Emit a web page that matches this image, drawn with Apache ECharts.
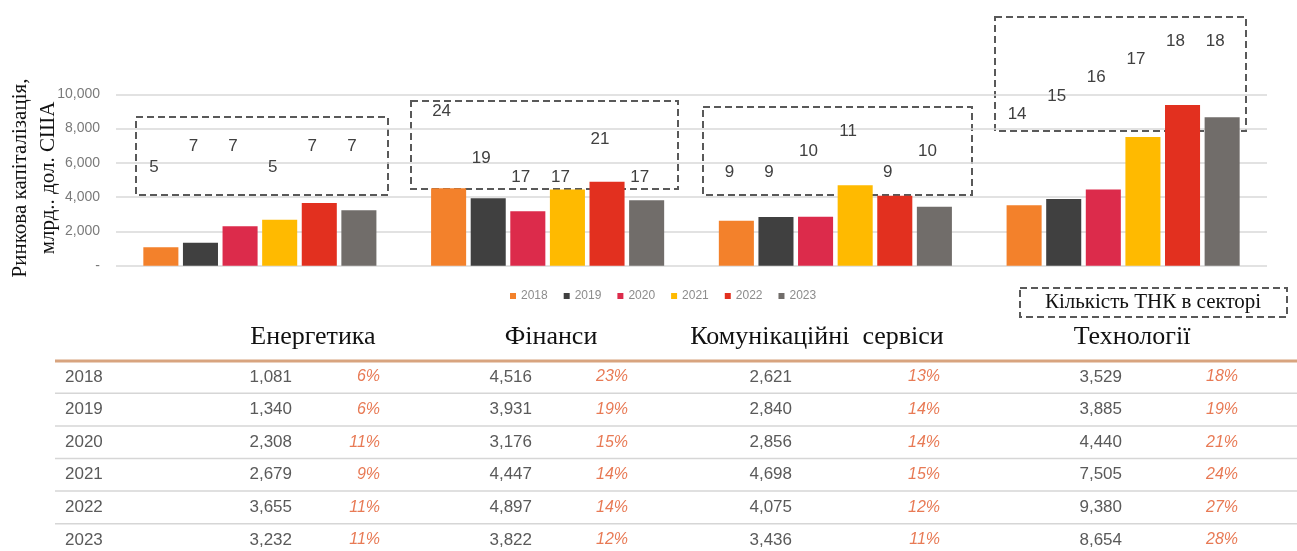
<!DOCTYPE html>
<html>
<head>
<meta charset="utf-8">
<script src="https://cdn.jsdelivr.net/npm/echarts@6/dist/echarts.min.js"></script>
<style>
  html, body { margin: 0; padding: 0; background: #fff; }
  #chart { width: 1297px; height: 551px; }
</style>
</head>
<body>
<div id="chart"></div>
<script>
// дані
const years = ['2018', '2019', '2020', '2021', '2022', '2023'];
const sectors = ['Енергетика', 'Фінанси', 'Комунікаційні  сервіси', 'Технології'];
const yTicks = [0, 2000, 4000, 6000, 8000, 10000];

// ринкова капіталізація, млрд дол. США
const energyCap = [1081, 1340, 2308, 2679, 3655, 3232];
const financeCap = [4516, 3931, 3176, 4447, 4897, 3822];
const commCap = [2621, 2840, 2856, 4698, 4075, 3436];
const techCap = [3529, 3885, 4440, 7505, 9380, 8654];

// частка, %
const energyShare = [6, 6, 11, 9, 11, 11];
const financeShare = [23, 19, 15, 14, 14, 12];
const commShare = [13, 14, 14, 15, 12, 11];
const techShare = [18, 19, 21, 24, 27, 28];

// кількість ТНК в секторі
const energyTnc = [5, 7, 7, 5, 7, 7];
const financeTnc = [24, 19, 17, 17, 21, 17];
const commTnc = [9, 9, 10, 11, 9, 10];
const techTnc = [14, 15, 16, 17, 18, 18];

const capBySector = [energyCap, financeCap, commCap, techCap];
const shareBySector = [energyShare, financeShare, commShare, techShare];
const tncBySector = [energyTnc, financeTnc, commTnc, techTnc];

// стиль
const colors = ['#F3812B', '#404040', '#DC2B4B', '#FFBA00', '#E2301F', '#716D6A'];
const catGap = 0.19;
const barGap = 0.13;
const labelShift = -7;
// окремі приховані шкали для підписів кількості ТНК
const tncScales = [
  { min: -4.4, max: 11.9 },
  { min: 7.6, max: 25.8 },
  { min: 4.45, max: 12.8 },
  { min: 5.8, max: 15.1 }
];

const chart = echarts.init(document.getElementById('chart'));

function renderCount(params, api) {
  const p = api.coord([api.value(0), api.value(2)]);
  const band = api.size([1, 0])[0];
  const barW = band * (1 - catGap) / (6 + 5 * barGap);
  const x = p[0] + (api.value(1) - 2.5) * barW * (1 + barGap) + labelShift;
  return {
    type: 'text',
    x: x,
    y: p[1],
    style: {
      text: String(api.value(2)),
      fill: '#404040',
      font: '17px "Liberation Sans", Arial',
      align: 'center',
      verticalAlign: 'middle'
    }
  };
}

const barSeries = years.map((yr, i) => ({
  name: yr,
  type: 'bar',
  yAxisIndex: 0,
  barGap: (barGap * 100) + '%',
  barCategoryGap: (catGap * 100) + '%',
  itemStyle: { color: colors[i] },
  data: capBySector.map(arr => arr[i])
}));

const countSeries = tncBySector.map((tnc, s) => ({
  name: 'ТНК ' + sectors[s],
  type: 'custom',
  yAxisIndex: s + 1,
  silent: true,
  z: 5,
  encode: { x: 0, y: 2 },
  renderItem: renderCount,
  data: tnc.map((c, y) => [s, y, c])
}));

// таблиця під графіком
const tbl = {
  headY: 337,
  lineY: 361,
  rowY0: 377,
  rowH: 32.6,
  left: 55,
  yearX: 65,
  headX: [313, 551, 817, 1132],
  valX: [292, 532, 792, 1122],
  pctX: [380, 628, 940, 1238]
};

const graphics = [];

// назва осі
graphics.push({
  type: 'text',
  x: 34,
  y: 178,
  rotation: Math.PI / 2,
  style: {
    text: 'Ринкова капіталізація,\nмлрд.. дол. США',
    font: '21px "Liberation Serif", "Times New Roman", serif',
    fill: '#111',
    align: 'center',
    verticalAlign: 'middle',
    lineHeight: 28
  }
});

// пунктирні рамки
const dashStyle = { fill: 'none', stroke: '#595959', lineWidth: 2, lineDash: [7, 4] };
[[136, 117, 252, 78], [411, 101, 267, 88], [703, 107, 269, 88], [995, 17, 251, 114], [1020, 288, 267, 29]]
  .forEach(r => graphics.push({ type: 'rect', shape: { x: r[0], y: r[1], width: r[2], height: r[3] }, style: dashStyle }));

graphics.push({
  type: 'text', x: 1153, y: 302,
  style: { text: 'Кількість ТНК в секторі', font: '21px "Liberation Serif", serif', fill: '#111', align: 'center', verticalAlign: 'middle' }
});

// заголовки секторів
sectors.forEach((name, s) => graphics.push({
  type: 'text', x: tbl.headX[s], y: tbl.headY,
  style: { text: name, font: '26px "Liberation Serif", serif', fill: '#111', align: 'center', verticalAlign: 'middle' }
}));

graphics.push({
  type: 'line', shape: { x1: tbl.left, y1: tbl.lineY, x2: 1297, y2: tbl.lineY },
  style: { stroke: '#D8A47F', lineWidth: 3 }
});

years.forEach((yr, i) => {
  const y = tbl.rowY0 + i * tbl.rowH;
  if (i > 0) {
    graphics.push({
      type: 'line', shape: { x1: tbl.left, y1: y - tbl.rowH / 2, x2: 1297, y2: y - tbl.rowH / 2 },
      style: { stroke: '#D6D6D6', lineWidth: 1.5 }
    });
  }
  graphics.push({
    type: 'text', x: tbl.yearX, y: y,
    style: { text: yr, font: '17px "Liberation Sans", Arial', fill: '#5a5a5a', align: 'left', verticalAlign: 'middle' }
  });
  sectors.forEach((name, s) => {
    graphics.push({
      type: 'text', x: tbl.valX[s], y: y,
      style: { text: capBySector[s][i].toLocaleString('en-US'), font: '17px "Liberation Sans", Arial', fill: '#5a5a5a', align: 'right', verticalAlign: 'middle' }
    });
    graphics.push({
      type: 'text', x: tbl.pctX[s], y: y,
      style: { text: shareBySector[s][i] + '%', font: 'italic 16px "Liberation Sans", Arial', fill: '#E87A55', align: 'right', verticalAlign: 'middle' }
    });
  });
});

const option = {
  animation: false,
  backgroundColor: '#fff',
  grid: { left: 116, right: 30, top: 94.3, bottom: 285.3, containLabel: false },
  legend: {
    data: years,
    left: 510,
    top: 290,
    padding: 0,
    icon: 'rect',
    itemWidth: 6,
    itemHeight: 6,
    itemGap: 16,
    textStyle: { color: '#8c8c8c', fontSize: 12, fontFamily: 'Liberation Sans, Arial' }
  },
  xAxis: {
    type: 'category',
    data: sectors,
    axisLine: { show: false },
    axisTick: { show: false },
    axisLabel: { show: false }
  },
  yAxis: [
    {
      type: 'value',
      min: yTicks[0],
      max: yTicks[yTicks.length - 1],
      interval: 2000,
      axisLine: { show: false },
      axisTick: { show: false },
      splitLine: { lineStyle: { color: '#D9D9D9', width: 1.5 } },
      axisLabel: {
        margin: 16,
        color: '#7a7a7a',
        fontSize: 14,
        fontFamily: 'Liberation Sans, Arial',
        formatter: v => v === 0 ? '-' : v.toLocaleString('en-US')
      }
    }
  ].concat(tncScales.map(sc => ({ type: 'value', show: false, min: sc.min, max: sc.max }))),
  series: barSeries.concat(countSeries),
  graphic: graphics
};

chart.setOption(option);
</script>
</body>
</html>
